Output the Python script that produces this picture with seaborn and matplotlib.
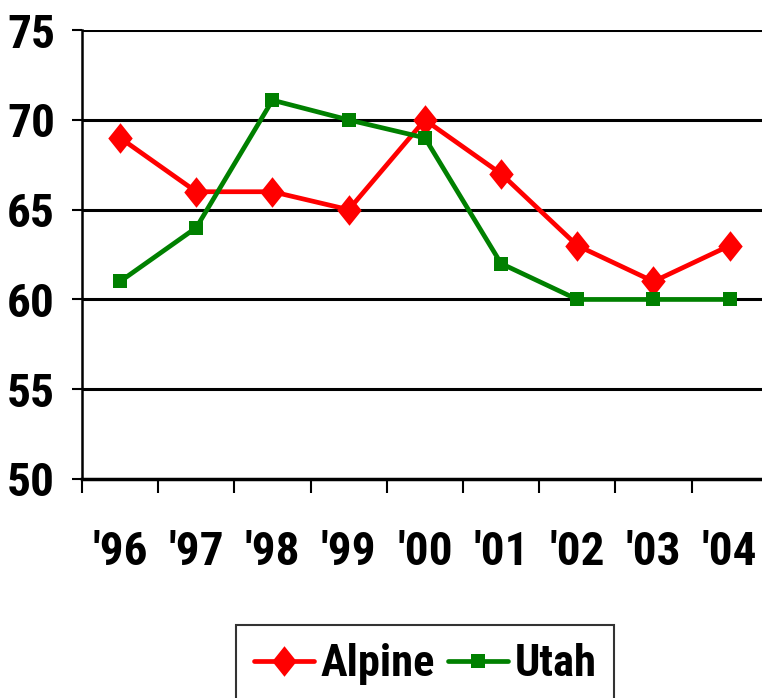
import numpy as np
import pandas as pd
import seaborn as sns
import matplotlib.pyplot as plt
from matplotlib.ticker import FixedLocator

sns.set_style('white')
plt.rcParams['font.family'] = ['Roboto Condensed', 'Roboto', 'DejaVu Sans']
plt.rcParams['font.weight'] = 'bold'
plt.rcParams['text.color'] = 'black'

# data
years = ["'96", "'97", "'98", "'99", "'00", "'01", "'02", "'03", "'04"]
alpine = [69, 66, 66, 65, 70, 67, 63, 61, 63]
utah = [61, 64, 71.1, 70, 69, 62, 60, 60, 60]
yticks = [50, 55, 60, 65, 70, 75]

pos = np.arange(len(years))
df = pd.DataFrame({'pos': pos, 'Alpine': alpine, 'Utah': utah})

fig = plt.figure(figsize=(7.62, 6.98), dpi=100)
ax = fig.add_axes([0.1076, 0.3138, 0.900, 0.643])

# gridlines first so lines sit on top
for v in yticks[1:]:
    ax.axhline(v, color='black', lw=2.2, zorder=1)

diamond = [(0, 1), (0.8, 0), (0, -1), (-0.8, 0)]
sns.lineplot(data=df, x='pos', y='Alpine', ax=ax, color='#ff0000', lw=3.4,
             marker=diamond, markersize=22, markeredgewidth=0,
             label='Alpine', zorder=3)
sns.lineplot(data=df, x='pos', y='Utah', ax=ax, color='#008000', lw=3.4,
             marker='s', markersize=10, markeredgewidth=0,
             label='Utah', zorder=3)

ax.set_xlim(-0.5, len(years) - 0.5)
ax.set_ylim(50, 75)
ax.set_xlabel('')
ax.set_ylabel('')

ax.set_yticks(yticks)
ax.set_yticklabels([str(v) for v in yticks])
ax.set_xticks(pos)
ax.set_xticklabels(years)
ax.xaxis.set_minor_locator(FixedLocator(np.arange(-0.5, len(years), 1.0)))

ax.tick_params(axis='y', which='major', direction='out', length=7.5, width=1.5,
               pad=12, labelsize=34, colors='black', left=True)
ax.tick_params(axis='x', which='major', length=0, pad=37, labelsize=34,
               labelcolor='black')
ax.tick_params(axis='x', which='minor', direction='out', length=10, width=1.5,
               bottom=True, color='black')

for s in ['top', 'right']:
    ax.spines[s].set_visible(False)
ax.spines['left'].set_color('black')
ax.spines['left'].set_linewidth(1.8)
ax.spines['bottom'].set_color('black')
ax.spines['bottom'].set_linewidth(2.5)

ax.get_legend().remove()
handles, labels = ax.get_legend_handles_labels()
leg = fig.legend(handles, labels, loc='upper center', ncol=2,
                 bbox_to_anchor=(0.558, 0.104), fontsize=32,
                 frameon=True, fancybox=False, edgecolor='black',
                 handlelength=1.35, handletextpad=0.15, columnspacing=0.3,
                 borderpad=0.4, borderaxespad=0)
leg.get_frame().set_linewidth(1.5)

fig.savefig('out.png', dpi=100)
